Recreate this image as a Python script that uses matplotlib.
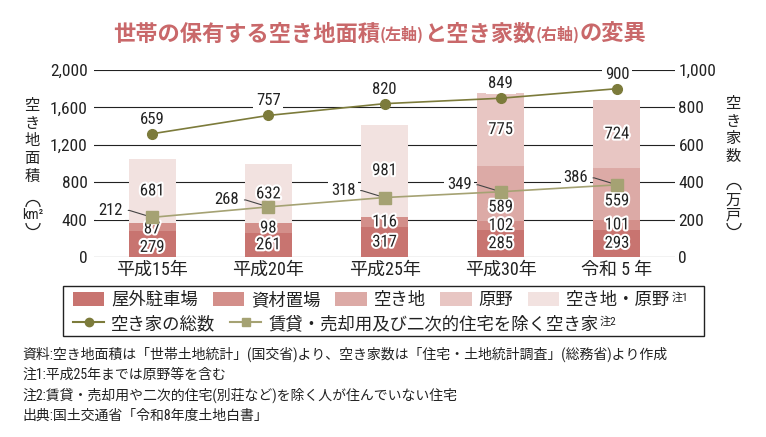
import numpy as np
import matplotlib
matplotlib.use('Agg')
import matplotlib.pyplot as plt
import matplotlib.patheffects as pe
from matplotlib import font_manager as fm
from matplotlib.lines import Line2D
from matplotlib.patches import Rectangle, Arc

CJK = 'Noto Sans CJK JP'
# 数字用に細めの書体を探す
fonts = fm.fontManager.ttflist
names = {f.name for f in fonts}
NUM = CJK
for cand in ['Liberation Sans Narrow', 'Roboto Condensed', 'Open Sans Condensed', 'DejaVu Sans Condensed']:
    if cand in names:
        NUM = cand
        break
else:
    if any(f.name == 'DejaVu Sans' and 'condensed' in str(f.stretch) for f in fonts):
        NUM = 'DejaVu Sans'
        plt.rcParams['font.stretch'] = 'condensed'
    elif 'Roboto' in names:
        NUM = 'Roboto'
plt.rcParams['font.family'] = [NUM, CJK]

# データ（空き地面積: km2 / 空き家数: 万戸）
years = ['平成15年', '平成20年', '平成25年', '平成30年', '令和 5 年']
parking = [279, 261, 317, 285, 293]       # 屋外駐車場
storage = [87, 98, 116, 102, 101]         # 資材置場
vacant_land = [0, 0, 0, 589, 559]         # 空き地
wild_land = [0, 0, 0, 775, 724]           # 原野
land_mixed = [681, 632, 981, 0, 0]        # 空き地・原野（平成25年まで）
houses_total = [659, 757, 820, 849, 900]  # 空き家の総数
houses_other = [212, 268, 318, 349, 386]  # 賃貸・売却用及び二次的住宅を除く空き家

area_names = ['屋外駐車場', '資材置場', '空き地', '原野', '空き地・原野']
area_colors = ['#c87470', '#d38f8a', '#dcaaa6', '#e8c6c3', '#f2e2e0']
line_names = ['空き家の総数', '賃貸・売却用及び二次的住宅を除く空き家']
c_total = '#7c7b3b'
c_other = '#a5a273'
title_color = '#c9686a'
ink = '#222222'

W, H = 766, 437
fig = plt.figure(figsize=(W / 100, H / 100), dpi=100)
ax = fig.add_axes([94 / W, 180 / H, 581 / W, 187 / H])
ax2 = ax.twinx()

x = np.arange(len(years))
halo = [pe.withStroke(linewidth=3, foreground='white')]

# 積み上げ棒
series = [parking, storage, vacant_land, wild_land, land_mixed]
nudge = {(0, 0): -2.5, (1, 0): -1.5, (2, 3): -10, (2, 4): -5}  # 線と重なるラベルを少し下へ
bottom = np.zeros(len(years))
bars = []
for k, (vals, col) in enumerate(zip(series, area_colors)):
    vals = np.array(vals, dtype=float)
    b = ax.bar(x, vals, bottom=bottom, width=0.405, color=col, zorder=2)
    bars.append(b)
    for i, v in enumerate(vals):
        if v > 0:
            ax.annotate(f'{int(v)}', (x[i], bottom[i] + v / 2), xytext=(0, nudge.get((k, i), 0)),
                        textcoords='offset points', ha='center', va='center',
                        fontsize=12, color=ink, path_effects=halo, zorder=4)
    bottom += vals

ax.set_xlim(-0.5, 4.5)
ax.set_ylim(0, 2000)
ax.set_yticks(np.arange(0, 2001, 400))
ax.set_yticklabels([f'{v:,}' for v in range(0, 2001, 400)])
ax.set_xticks(x)
ax.set_xticklabels(years, fontsize=13)
ax.yaxis.grid(True, color=ink, lw=0.8)
ax.set_axisbelow(True)
ax.tick_params(axis='y', length=0, pad=4.5, labelsize=12.5, colors=ink)
ax.tick_params(axis='x', length=0, pad=3, colors=ink)

ax2.set_ylim(0, 1000)
ax2.set_yticks(np.arange(0, 1001, 200))
ax2.set_yticklabels([f'{v:,}' for v in range(0, 1001, 200)])
ax2.tick_params(axis='y', length=0, pad=2.5, labelsize=12.5, colors=ink)
for a in (ax, ax2):
    for s in a.spines.values():
        s.set_visible(False)

# 折れ線（右軸）
ax2.plot(x, houses_total, color=c_total, lw=1.2, marker='o', ms=7, zorder=5)
ax2.plot(x, houses_other, color=c_other, lw=1.2, marker='s', ms=8, zorder=5)
for i, v in enumerate(houses_total):
    ax2.annotate(f'{v}', (x[i], v), xytext=(0, 10.5), textcoords='offset points',
                 ha='center', va='center', fontsize=12, color=ink, zorder=3,
                 bbox=dict(boxstyle='square,pad=0.15', fc='white', ec='none'))
for i, v in enumerate(houses_other):
    ax2.annotate(f'{v}', (x[i], v), xytext=(-21, 5), textcoords='offset points',
                 ha='right', va='center', fontsize=12, color=ink, zorder=3,
                 bbox=dict(boxstyle='square,pad=0.15', fc='white', ec='none'),
                 arrowprops=dict(arrowstyle='-', color='#444', lw=0.8, shrinkB=4,
                                 connectionstyle='angle,angleA=0,angleB=-17,rad=0'))


# 軸ラベル（縦書き）
def vertical_label(xc, y_top, chars, pitch=17.6, size=11):
    y = y_top
    for ch in chars:
        fig.text(xc / W, 1 - y / H, ch, ha='center', va='center', fontsize=size,
                 family=[NUM, CJK], color=ink)
        y += pitch


def vparen(xc, y, upper):
    # 縦書き用の括弧（︵ ︶）を弧で描く
    t1, t2 = (0, 180) if upper else (180, 360)
    fig.patches.append(Arc((xc / W, 1 - y / H), 14 / W, 13 / H, theta1=t1, theta2=t2,
                           transform=fig.transFigure, color=ink, lw=0.9))


vertical_label(32, 106, '空き地面積')
vparen(33, 207, True)
fig.text(33 / W, 1 - 215 / H, 'km²', ha='center', va='center', fontsize=10, color=ink, family=[NUM, CJK])
vparen(33, 223, False)

vertical_label(733, 104, '空き家数')
vparen(734, 190, True)
vertical_label(733, 201, '万戸', pitch=14.5)
vparen(734, 223, False)

# タイトル（括弧部分は小さく）
parts = [('世帯の保有する空き地面積', 16), ('(左軸)', 11.5), ('と空き家数', 16),
         ('(右軸)', 11.5), ('の変異', 16)]
prev = fig.text(113 / W, 1 - 34 / H, parts[0][0], fontsize=parts[0][1], fontweight='bold',
                color=title_color, ha='left', va='center', family=CJK)
for txt, size in parts[1:]:
    prev = ax.annotate(txt, xy=(1, 0.5), xycoords=prev, ha='left', va='center',
                       fontsize=size, fontweight='bold', color=title_color, family=CJK,
                       annotation_clip=False)

# 凡例
leg_kw = dict(frameon=False, prop={'family': CJK, 'size': 12.5}, handlelength=1.8,
              handleheight=0.9, handletextpad=0.4, borderpad=0, borderaxespad=0,
              loc='center left')
leg1 = fig.legend(bars, area_names, ncol=5, columnspacing=0.85,
                  bbox_to_anchor=(73 / W, 1 - 300 / H), **leg_kw)
line_handles = [Line2D([], [], color=c_total, lw=1.5, marker='o', ms=6),
                Line2D([], [], color=c_other, lw=1.5, marker='s', ms=6)]
leg2 = fig.legend(line_handles, line_names, ncol=2, columnspacing=0.85, numpoints=1,
                  bbox_to_anchor=(73 / W, 1 - 324 / H), **leg_kw)
for t in leg1.get_texts() + leg2.get_texts():
    t.set_color(ink)
fig.patches.append(Rectangle((63 / W, 1 - 336 / H), 641 / W, 50 / H, transform=fig.transFigure,
                             fill=False, ec=ink, lw=1))

# 注記
notes = ['資料:空き地面積は「世帯土地統計」(国交省)より、空き家数は「住宅・土地統計調査」(総務省)より作成',
         '注1:平成25年までは原野等を含む',
         '注2:賃貸・売却用や二次的住宅(別荘など)を除く人が住んでいない住宅',
         '出典:国土交通省「令和8年度土地白書」']
for j, s in enumerate(notes):
    fig.text(22 / W, 1 - (354 + 20.7 * j) / H, s, ha='left', va='center', fontsize=10,
             family=[NUM, CJK], color=ink)

# 凡例の「注」上付き（凡例の位置が決まってから置く）
fig.canvas.draw()
for t, note in [(leg1.get_texts()[4], '注1'), (leg2.get_texts()[1], '注2')]:
    bb = t.get_window_extent()
    fig.text(bb.x1 / W + 0.001, bb.y1 / H - 0.002, note, ha='left', va='top', fontsize=8,
             family=[NUM, CJK], color=ink)

fig.savefig('out.png', dpi=100, facecolor='white')
